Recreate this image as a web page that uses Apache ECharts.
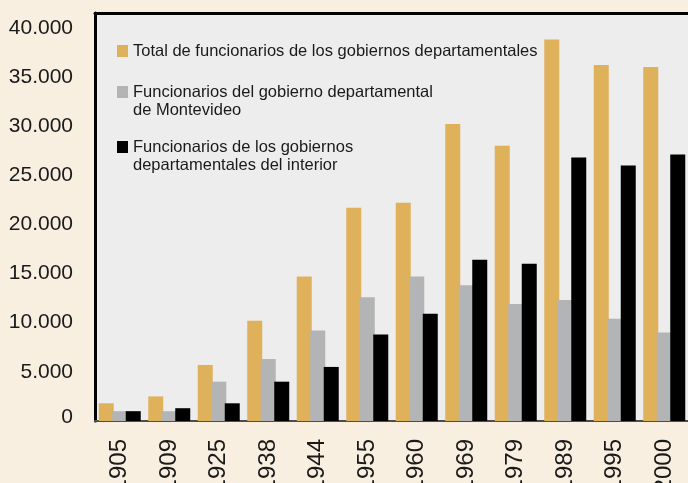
<!DOCTYPE html>
<html>
<head>
<meta charset="utf-8">
<script src="https://cdn.jsdelivr.net/npm/echarts@6/dist/echarts.min.js"></script>
<style>
html,body{margin:0;padding:0;background:#F8EFE0;}
#c{width:688px;height:483px;}
</style>
</head>
<body>
<div id="c"></div>
<script>
var years = ['1905','1909','1925','1938','1944','1955','1960','1969','1979','1989','1995','2000'];
var totalDept = [1800, 2500, 5700, 10200, 14700, 21700, 22200, 30200, 28000, 38800, 36200, 36000];
var montevideo = [1000, 1000, 4000, 6300, 9200, 12600, 14700, 13800, 11900, 12300, 10400, 9000];
var interior = [1000, 1300, 1800, 4000, 5500, 8800, 10900, 16400, 16000, 26800, 26000, 27100];
var seriesNames = [
  'Total de funcionarios de los gobiernos departamentales',
  'Funcionarios del gobierno departamental\nde Montevideo',
  'Funcionarios de los gobiernos\ndepartamentales del interior'
];
var colors = ['#E0B15B', '#B3B4B5', '#000000'];

var FONT = '"Liberation Sans", Arial, sans-serif';

function fmt(v) {
  if (v % 5000 !== 0) return '';
  if (v === 0) return '{z|0}';
  var s = String(v);
  return s.replace(/\B(?=(\d{3})+(?!\d))/g, '.');
}

var chart = echarts.init(document.getElementById('c'), null, {renderer: 'canvas'});
var tallIcon = 'path://M0,0h11v12h-11z M0,29.99h0.01v0.01h-0.01z';
function legend(name, top, icon, h) {
  return {
    left: 117, top: top, orient: 'vertical', padding: 0,
    itemWidth: 11, itemHeight: h, selectedMode: false,
    data: [{name: name, icon: icon}],
    textStyle: {fontFamily: FONT, fontSize: 16.5, lineHeight: 18, color: '#1a1a1a'}
  };
}
chart.setOption({
  backgroundColor: '#F8EFE0',
  animation: false,
  legend: [
    legend(seriesNames[0], 42, 'rect', 12),
    legend(seriesNames[1], 83, tallIcon, 30),
    legend(seriesNames[2], 138, tallIcon, 30)
  ],
  grid: {left: 95, top: 13, right: -1, bottom: 62, show: true, backgroundColor: '#ECEDEC', borderWidth: 0,
         containLabel: false, outerBoundsMode: 'none'},
  xAxis: [{
    type: 'category', data: years, position: 'bottom',
    axisLine: {lineStyle: {color: '#4d4d4d', width: 2}},
    axisTick: {show: false},
    axisLabel: {rotate: 90, margin: 18, fontFamily: FONT, fontSize: 24, color: '#1a1a1a', padding: [0, 0, 8, 0]}
  }, {
    type: 'category', data: years, position: 'top',
    axisLine: {lineStyle: {color: '#000', width: 3}},
    axisTick: {show: false}, axisLabel: {show: false}
  }],
  yAxis: {
    type: 'value', min: 0, max: 41500, interval: 5000,
    axisLine: {show: true, lineStyle: {color: '#000', width: 3}},
    axisTick: {show: false}, splitLine: {show: false},
    axisLabel: {
      margin: 22, fontFamily: FONT, fontSize: 21, color: '#1a1a1a',
      formatter: fmt,
      rich: {z: {fontFamily: FONT, fontSize: 21, color: '#1a1a1a', padding: [0, 0, 8, 0]}}
    }
  },
  series: [
    {name: seriesNames[0], type: 'bar', data: totalDept, barWidth: 15, barGap: '-10%', itemStyle: {color: colors[0]}},
    {name: seriesNames[1], type: 'bar', data: montevideo, barWidth: 15, barGap: '-10%', itemStyle: {color: colors[1]}},
    {name: seriesNames[2], type: 'bar', data: interior, barWidth: 15, barGap: '-10%', itemStyle: {color: colors[2]}}
  ]
});
</script>
</body>
</html>
